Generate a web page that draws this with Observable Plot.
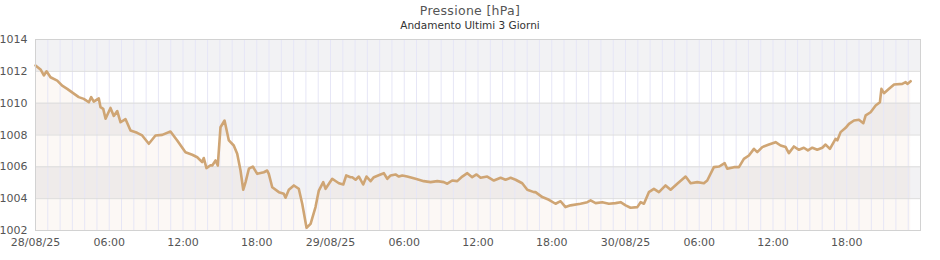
<!DOCTYPE html>
<html>
<head>
<meta charset="utf-8">
<script src="https://cdn.jsdelivr.net/npm/d3@7"></script>
<script src="https://cdn.jsdelivr.net/npm/@observablehq/plot@0.6"></script>
<style>
  html, body { margin: 0; padding: 0; background: #fff; }
  body { width: 940px; height: 260px; overflow: hidden; font-family: "DejaVu Sans", sans-serif; }
  #head { height: 32px; position: relative; }
  #title { position: absolute; top: 3px; left: 0; width: 940px; text-align: center; font-size: 12.5px; color: #555; letter-spacing: 0.3px; }
  #subtitle { position: absolute; top: 19px; left: 0; width: 940px; text-align: center; font-size: 10.5px; color: #333; }
  svg { display: block; }
</style>
</head>
<body>
<div id="head"><div id="title">Pressione [hPa]</div><div id="subtitle">Andamento Ultimi 3 Giorni</div></div>
<div id="chart"></div>
<script>
// Hours since 28/08/25 00:00 and pressure in hPa
const hours = [
  0.00,0.41,0.68,0.90,1.22,1.77,2.17,2.58,3.12,3.52,3.93,4.34,4.53,4.74,5.15,5.29,5.51,5.70,6.10,6.37,
  6.65,6.92,7.32,7.73,8.27,8.68,9.22,9.76,10.31,10.98,11.53,12.20,12.75,13.16,13.56,13.69,13.91,14.24,14.38,14.65,
  14.83,15.05,15.38,15.73,16.13,16.41,16.68,16.90,17.09,17.36,17.68,18.04,18.58,18.85,18.98,19.26,19.80,20.20,20.34,20.61,
  21.02,21.42,21.70,22.05,22.38,22.78,23.05,23.41,23.60,24.14,24.68,25.04,25.28,25.63,25.77,26.04,26.31,26.66,26.93,27.26,
  27.53,28.07,28.34,28.62,28.89,29.29,29.56,29.84,30.24,30.92,31.59,32.14,32.69,33.22,33.50,33.90,34.31,34.72,35.13,35.53,
  35.88,36.21,36.75,37.29,37.84,38.24,38.65,39.06,39.60,40.01,40.55,40.68,41.23,41.77,42.31,42.72,43.12,43.53,44.34,44.89,
  45.16,45.57,46.11,46.65,47.19,47.60,48.01,48.41,48.96,49.23,49.50,49.90,50.31,50.72,51.26,51.67,52.21,52.89,53.30,53.84,
  54.38,54.65,55.19,55.60,55.74,56.07,56.28,56.82,57.23,57.63,58.04,58.45,58.72,59.13,59.67,60.21,60.62,61.03,61.29,61.70,
  62.11,62.51,62.84,63.20,63.60,64.01,64.28,64.63,65.09,65.23,65.50,65.91,66.18,66.59,66.99,67.35,67.54,67.94,68.35,68.70,
  68.82,69.03,69.44,69.85,70.52,70.79,70.93,71.20
];
const pressure = [
  1012.37,1012.12,1011.74,1012.00,1011.63,1011.42,1011.10,1010.90,1010.60,1010.38,1010.27,1010.06,1010.38,1010.10,1010.30,1009.75,1009.64,1009.02,1009.70,1009.20,
  1009.50,1008.80,1009.00,1008.28,1008.14,1007.97,1007.45,1007.97,1008.01,1008.22,1007.66,1006.92,1006.76,1006.60,1006.30,1006.55,1005.92,1006.10,1006.08,1006.40,
  1006.08,1008.49,1008.91,1007.66,1007.34,1006.82,1005.77,1004.56,1005.04,1005.88,1006.02,1005.56,1005.66,1005.77,1005.56,1004.72,1004.41,1004.31,1004.06,1004.56,
  1004.83,1004.62,1003.68,1002.17,1002.42,1003.47,1004.51,1005.04,1004.62,1005.25,1004.97,1004.89,1005.46,1005.35,1005.35,1005.19,1005.39,1004.89,1005.39,1005.10,
  1005.35,1005.52,1005.60,1005.25,1005.46,1005.52,1005.39,1005.46,1005.39,1005.25,1005.10,1005.04,1005.10,1005.04,1004.94,1005.14,1005.10,1005.39,1005.60,1005.35,
  1005.52,1005.31,1005.39,1005.14,1005.31,1005.19,1005.31,1005.19,1004.97,1004.56,1004.41,1004.41,1004.10,1003.93,1003.68,1003.84,1003.47,1003.58,1003.68,1003.78,
  1003.89,1003.72,1003.78,1003.68,1003.72,1003.78,1003.58,1003.43,1003.47,1003.78,1003.68,1004.41,1004.62,1004.41,1004.83,1004.56,1004.94,1005.39,1004.97,1005.04,
  1004.97,1005.14,1005.98,1006.02,1006.08,1006.23,1005.88,1005.98,1005.98,1006.50,1006.71,1007.13,1006.92,1007.24,1007.40,1007.55,1007.34,1007.24,1006.86,1007.28,
  1007.07,1007.20,1007.03,1007.20,1007.07,1007.20,1007.40,1007.13,1007.76,1007.66,1008.18,1008.45,1008.70,1008.91,1008.96,1008.74,1009.23,1009.43,1009.85,1010.06,
  1010.90,1010.63,1010.90,1011.17,1011.21,1011.32,1011.21,1011.38
];
const yTicks = [1002, 1004, 1006, 1008, 1010, 1012, 1014];
const shadedBands = [[1012, 1014], [1008, 1010], [1004, 1006]];
const startDate = "2025-08-28T00:00:00Z";
const endDate = "2025-08-31T00:00:00Z";

const t0 = new Date(startDate), t1 = new Date(endDate);
const data = hours.map((h, i) => ({t: new Date(+t0 + h * 3600e3), p: pressure[i]}));
const bands = shadedBands.map(([lo, hi]) => ({lo, hi}));
const hourLines = d3.utcHour.range(t0, new Date(+t1 + 1));
const xTicks = d3.utcHour.every(6).range(t0, t1);
const fmtDay = d3.utcFormat("%d/%m/%y"), fmtHour = d3.utcFormat("%H:%M");

const chart = Plot.plot({
  width: 940,
  height: 228,
  marginTop: 7,
  marginBottom: 30,
  marginLeft: 35,
  marginRight: 20,
  style: {fontFamily: "DejaVu Sans, sans-serif", fontSize: "11px", color: "#555", background: "#fff"},
  x: {type: "utc", domain: [t0, t1], label: null},
  y: {domain: [1002, 1014], label: null},
  marks: [
    Plot.rect(bands, {x1: () => t0, x2: () => t1, y1: "lo", y2: "hi", fill: "#f2f2f4"}),
    Plot.areaY(data, {x: "t", y1: () => 1002, y2: "p", fill: "#cfa06e", fillOpacity: 0.07}),
    Plot.ruleX(hourLines, {stroke: "#e6e6f6", strokeWidth: 1}),
    Plot.ruleY(yTicks, {stroke: "#dcdcdc", strokeWidth: 1}),
    Plot.line(data, {x: "t", y: "p", stroke: "#cfa574", strokeWidth: 2.6, strokeLinejoin: "round"}),
    Plot.frame({stroke: "#d2d2d2"}),
    Plot.axisY(yTicks, {tickSize: 0, tickPadding: 8, tickFormat: d => String(d), fill: "#555", label: null}),
    Plot.axisX(xTicks, {tickSize: 0, tickPadding: 8, tickFormat: d => (d.getUTCHours() === 0 ? fmtDay(d) : fmtHour(d)), fill: "#555", label: null})
  ]
});
document.getElementById("chart").appendChild(chart);
</script>
</body>
</html>
